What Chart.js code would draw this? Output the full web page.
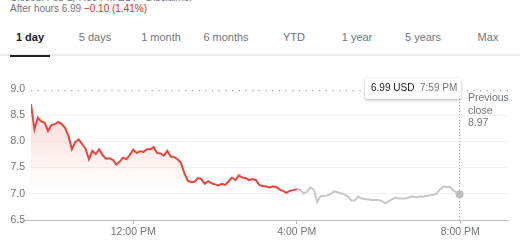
<!DOCTYPE html>
<html>
<head>
<meta charset="utf-8">
<script src="https://cdn.jsdelivr.net/npm/chart.js@4/dist/chart.umd.min.js"></script>
<style>
  html,body{margin:0;padding:0;background:#fff;}
  body{width:520px;height:245px;position:relative;overflow:hidden;font-family:Arial,"Liberation Sans",sans-serif;}
  #wrap{position:absolute;left:0;top:0;width:520px;height:245px;}
  .abs{position:absolute;white-space:nowrap;line-height:1;}
  .tab{position:absolute;top:31px;font-size:11px;color:#70757a;transform:translateX(-50%);white-space:nowrap;line-height:12px;}
  .tab.active{color:#202124;font-weight:bold;}
</style>
</head>
<body>
<div class="abs" style="left:10px;top:-7px;font-size:10px;color:#70757a;">Closed: Feb 1, 7:59 PM EST · Disclaimer</div>
<div class="abs" style="left:10px;top:4px;font-size:10px;color:#70757a;">After hours 6.99 <span style="color:#d93025;">−0.10 (1.41%)</span></div>
<div id="tabs"></div>
<div class="abs" style="left:0;top:54px;width:520px;height:2px;background:#ececec;"></div>
<div class="abs" style="left:10px;top:55px;width:40px;height:2px;background:#202124;"></div>
<div id="wrap"><canvas id="c" width="520" height="245"></canvas></div>
<div class="abs" style="left:365px;top:78px;width:96px;height:21px;background:#fff;box-shadow:0 1px 3px rgba(0,0,0,0.3);border-radius:2px;"></div>
<div class="abs" style="left:371px;top:83px;font-size:10px;color:#202124;">6.99 USD</div>
<div class="abs" style="left:420px;top:83px;font-size:10px;color:#70757a;">7:59 PM</div>
<div class="abs" style="left:468px;top:91px;font-size:10.5px;color:#70757a;line-height:12.5px;white-space:normal;width:50px;">Previous<br>close<br>8.97</div>
<script>
// ---- data ----
const tabLabels = ['1 day','5 days','1 month','6 months','YTD','1 year','5 years','Max'];
const tabCenters = [30, 95, 161, 226, 294, 357, 423, 488];
const xTickLabels = ['12:00 PM','4:00 PM','8:00 PM'];
const yTickLabels = ['6.5','7.0','7.5','8.0','8.5','9.0'];
const sessionStart = '9:30 AM';
const afterHoursStart = '4:00 PM';
const axisEnd = '9:10 PM';
const stepMinutes = 5;
const previousClose = 8.97;
const lastQuoteTime = '7:59 PM';
const lastQuotePrice = 6.99;
// regular session prices, every 5 minutes from 9:30 AM to 4:00 PM
const regularPrices = [
  8.71,8.23,8.45,8.38,8.36,8.20,8.31,8.33,8.37,8.33,
  8.26,8.10,7.85,7.99,8.04,7.95,7.86,7.66,7.82,7.76,
  7.85,7.74,7.67,7.68,7.65,7.56,7.61,7.69,7.66,7.74,
  7.84,7.78,7.81,7.80,7.85,7.85,7.89,7.78,7.77,7.73,
  7.82,7.71,7.70,7.66,7.59,7.40,7.25,7.22,7.23,7.30,
  7.28,7.19,7.24,7.20,7.18,7.16,7.19,7.17,7.24,7.31,
  7.26,7.35,7.31,7.30,7.26,7.28,7.26,7.17,7.15,7.14,
  7.12,7.14,7.13,7.08,7.05,7.02,7.06,7.07,7.09
];
// after-hours prices, every 5 minutes from 4:00 PM to 7:55 PM
const afterHoursPrices = [
  7.09,7.08,7.00,7.04,7.12,7.08,6.84,6.96,6.96,6.97,
  7.00,7.05,7.03,7.01,6.99,6.95,6.87,6.87,6.95,6.91,
  6.90,6.89,6.88,6.88,6.88,6.86,6.82,6.86,6.90,6.93,
  6.91,6.91,6.91,6.93,6.95,6.93,6.95,6.95,6.96,6.97,
  6.98,7.00,7.08,7.14,7.13,7.13,7.06,7.02
];

// ---- helpers ----
function toMin(s){
  const m = s.match(/(\d+):(\d+)\s*(AM|PM)/);
  let h = +m[1] % 12; if (m[3]==='PM') h += 12;
  return h*60 + (+m[2]);
}
const tabs = document.getElementById('tabs');
tabLabels.forEach((t,i)=>{
  const d = document.createElement('div');
  d.className = 'tab' + (i===0 ? ' active' : '');
  d.style.left = tabCenters[i] + 'px';
  d.textContent = t;
  tabs.appendChild(d);
});

const t0 = toMin(sessionStart), t1 = toMin(afterHoursStart);
const regularData = regularPrices.map((v,i)=>({x:t0+i*stepMinutes, y:v}));
const afterData = afterHoursPrices.map((v,i)=>({x:t1+i*stepMinutes, y:v}));
afterData.push({x:toMin(lastQuoteTime), y:lastQuotePrice});
const xMin = t0, xMax = toMin(axisEnd);
const yVals = yTickLabels.map(Number);
const yMin = Math.min(...yVals), yMax = Math.max(...yVals);

Chart.defaults.font.family = 'Arial, "Liberation Sans", sans-serif';
Chart.defaults.color = '#70757a';

new Chart(document.getElementById('c'), {
  type: 'line',
  data: {
    datasets: [
      {
        data: [{x:toMin(lastQuoteTime), y:lastQuotePrice}],
        showLine:false, pointRadius:4, pointBackgroundColor:'#bdbdbd', pointBorderWidth:0, order:0
      },
      {
        data: regularData,
        borderColor:'#e8453c', borderWidth:2, pointRadius:0, tension:0,
        fill:'start',
        backgroundColor:(ctx)=>{
          const ch = ctx.chart, ca = ch.chartArea;
          if(!ca) return 'rgba(234,67,53,0.1)';
          const g = ch.ctx.createLinearGradient(0, ca.top+10, 0, ca.top+102);
          g.addColorStop(0,'rgba(234,67,53,0.22)');
          g.addColorStop(1,'rgba(234,67,53,0)');
          return g;
        },
        order:2
      },
      {
        data: afterData,
        borderColor:'#c8c8c8', borderWidth:2, pointRadius:0, tension:0, fill:false, order:3
      },
      {
        data: [{x:xMin, y:previousClose},{x:xMax, y:previousClose}],
        borderColor:'#9aa0a6', borderWidth:1.2, borderDash:[1.2,5.5], pointRadius:0, fill:false, order:4
      },
      {
        data: [{x:toMin(lastQuoteTime), y:yMin},{x:toMin(lastQuoteTime), y:previousClose-0.15}],
        borderColor:'#9aa0a6', borderWidth:1, borderDash:[1,2], pointRadius:0, fill:false, order:1
      }
    ]
  },
  options: {
    responsive:false, animation:false,
    layout:{padding:{top:89, right:12, left:0, bottom:0}},
    plugins:{legend:{display:false}, tooltip:{enabled:false}},
    scales:{
      x:{
        type:'linear', min:xMin, max:xMax,
        afterBuildTicks:(s)=>{ s.ticks = xTickLabels.map(l=>({value:toMin(l)})); },
        afterFit:(s)=>{ s.height = 25; },
        ticks:{
          autoSkip:false, maxRotation:0, padding:2,
          font:{size:10.5}, color:'#70757a',
          callback:(v)=>{ const i = xTickLabels.findIndex(l=>toMin(l)===v); return i>=0 ? xTickLabels[i] : ''; }
        },
        grid:{drawOnChartArea:false, drawTicks:true, tickLength:4, tickColor:'#bdbdbd', color:'#bdbdbd'},
        border:{display:true, color:'#bdbdbd', width:1}
      },
      y:{
        min:yMin, max:yMax,
        afterBuildTicks:(s)=>{ s.ticks = yVals.map(v=>({value:v})); },
        afterFit:(s)=>{ s.width = 31; },
        ticks:{
          padding:0, font:{size:10.5}, color:'#70757a',
          callback:(v)=>{ const i = yVals.indexOf(v); return i>=0 ? yTickLabels[i] : ''; }
        },
        grid:{
          drawTicks:true, tickLength:6,
          color:(ctx)=> (ctx.tick && (ctx.tick.value===yMax || ctx.tick.value===yMin)) ? 'rgba(0,0,0,0)' : '#f1f1f1',
          tickColor:(ctx)=> (ctx.tick && ctx.tick.value===yMin) ? '#bdbdbd' : 'rgba(0,0,0,0)'
        },
        border:{display:false}
      }
    }
  }
});
</script>
</body>
</html>
